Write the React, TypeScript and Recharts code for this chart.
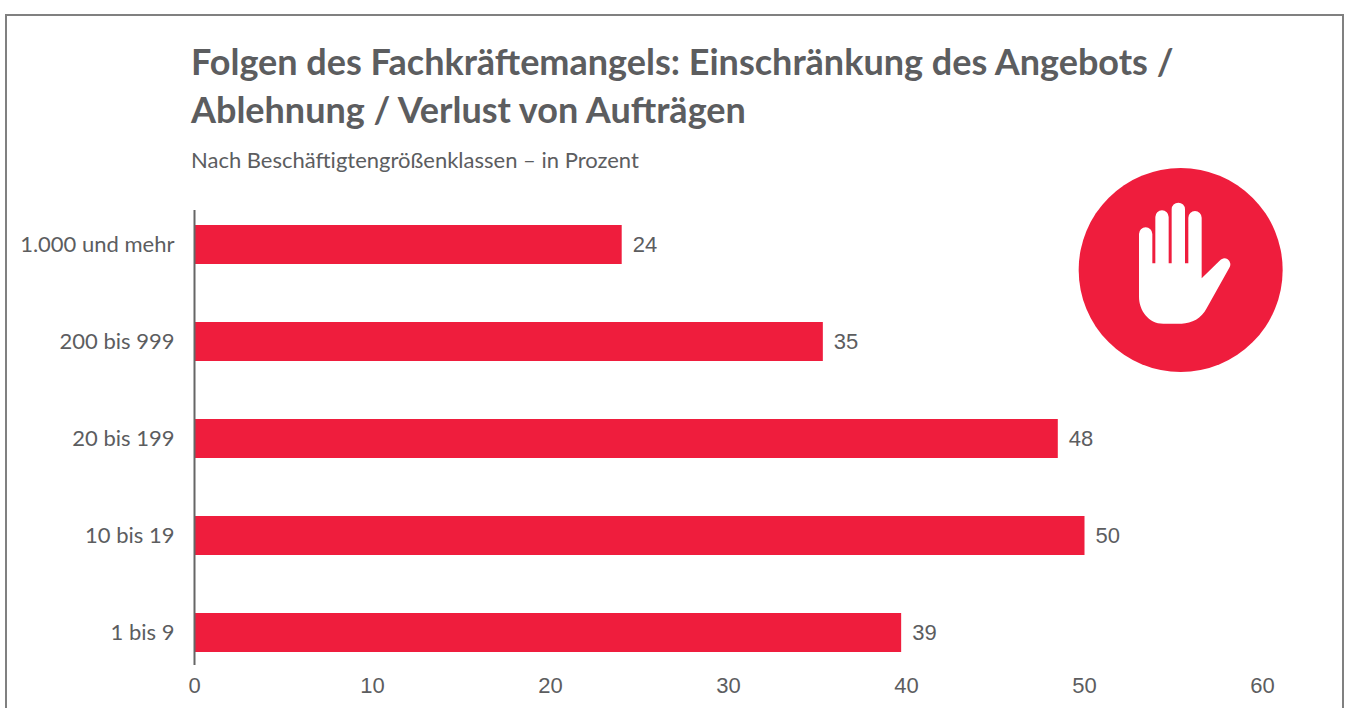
import { BarChart, Bar, XAxis, YAxis, LabelList } from 'recharts'

const categories = ['1.000 und mehr', '200 bis 999', '20 bis 199', '10 bis 19', '1 bis 9']
const barLengths = [24, 35.3, 48.5, 50, 39.7]
const valueLabels = ['24', '35', '48', '50', '39']
const xTicks = [0, 10, 20, 30, 40, 50, 60]

const rows = categories.map((name, i) => ({ name, value: barLengths[i], label: valueLabels[i] }))

const RED = '#EF1D3D'
const GREY = '#5C5D5F'
const FONT = 'Lato, sans-serif'
const NUM_FONT = '"Liberation Sans", sans-serif'

export default function App() {
    return (
        <div style={{ position: 'absolute', left: 0, top: 0, width: 1349, height: 708, overflow: 'hidden', background: '#fff', fontFamily: FONT, color: GREY }}>
            {/* frame runs off the bottom of the page */}
            <div style={{ position: 'absolute', left: 5, top: 14, width: 1335, height: 720, border: '2px solid #808080' }} />

            <div style={{ position: 'absolute', left: 191, top: 37, fontSize: 36, fontWeight: 700, lineHeight: '48px', whiteSpace: 'nowrap' }}>
                Folgen des Fachkräftemangels: Einschränkung des Angebots /<br />
                Ablehnung / Verlust von Aufträgen
            </div>
            <div style={{ position: 'absolute', left: 191, top: 146, fontSize: 22, lineHeight: '28px', whiteSpace: 'nowrap' }}>
                Nach Beschäftigtengrößenklassen – in Prozent
            </div>

            <div style={{ position: 'absolute', left: 0, top: 0 }}>
                <BarChart
                    width={1349}
                    height={708}
                    data={rows}
                    layout="vertical"
                    margin={{ top: 210, right: 86.5, bottom: 13, left: 0 }}
                >
                    <XAxis
                        type="number"
                        domain={[0, 60]}
                        ticks={xTicks}
                        axisLine={false}
                        tickLine={false}
                        tickSize={0}
                        tickMargin={12}
                        tick={{ fill: GREY, fontSize: 22, fontFamily: NUM_FONT }}
                    />
                    <YAxis
                        type="category"
                        dataKey="name"
                        width={194.5}
                        padding={{ top: -14, bottom: -16 }}
                        axisLine={{ stroke: '#666666', strokeWidth: 2 }}
                        tickLine={false}
                        tickSize={0}
                        tickMargin={20}
                        tick={{ fill: GREY, fontSize: 22, fontFamily: FONT }}
                    />
                    <Bar dataKey="value" fill={RED} barSize={39} isAnimationActive={false}>
                        <LabelList
                            dataKey="label"
                            position="right"
                            offset={11}
                            fill={GREY}
                            fontSize={22}
                            fontFamily={NUM_FONT}
                        />
                    </Bar>
                </BarChart>
            </div>

            <svg style={{ position: 'absolute', left: 1060, top: 150 }} width={240} height={240} viewBox="0 0 720 720">
                <circle cx={362} cy={360} r={306} fill={RED} />
                <path
                    fill="#fff"
                    d="M237 252 a20 20 0 0 1 40 0 V340 H286 V201 a20 20 0 0 1 40 0 V340 H335 V178 a20 20 0 0 1 40 0 V340 H385 V203 a20 20 0 0 1 40 0 V385 L478 333 a18 18 0 0 1 30 20 L440 475 C425 505 395 521 365 521 H310 C265 521 237 480 237 440 Z"
                />
            </svg>
        </div>
    )
}
